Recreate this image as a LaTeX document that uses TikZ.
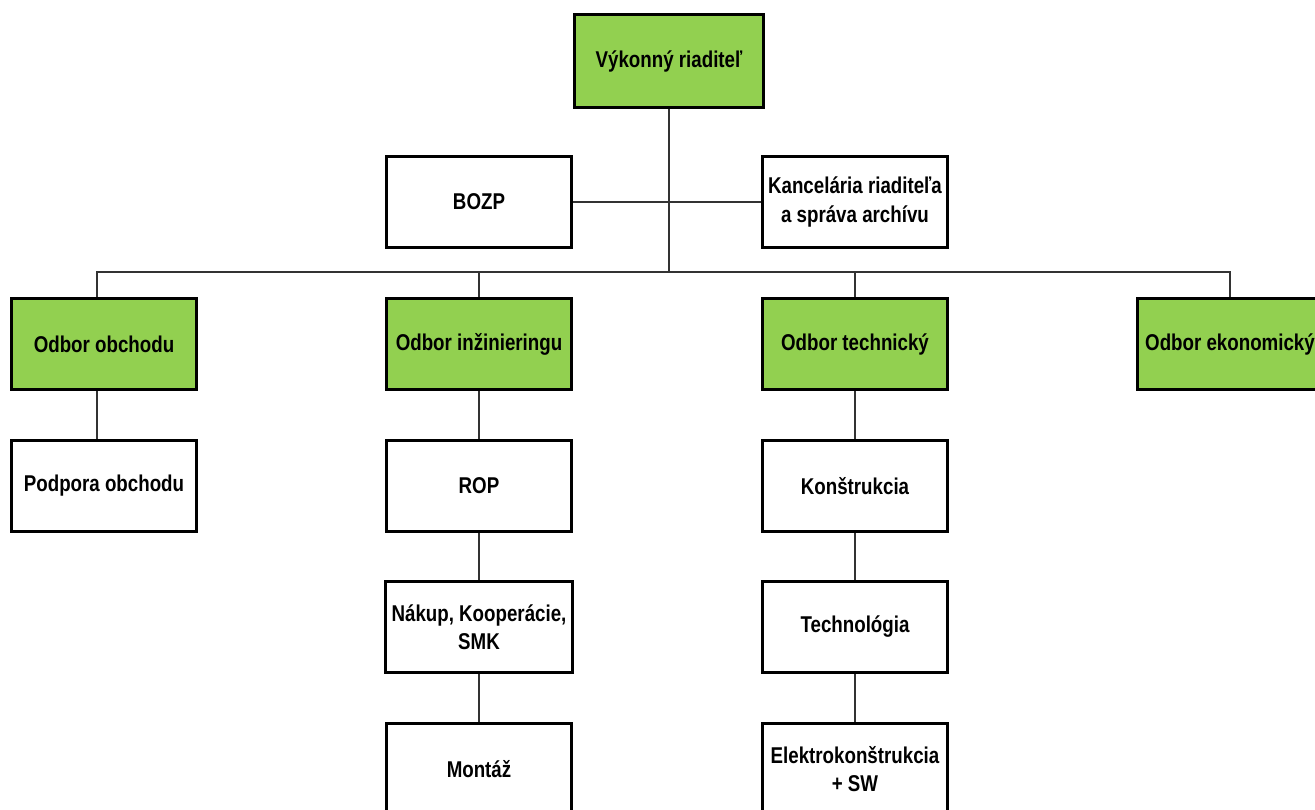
\documentclass[tikz,border=0pt]{standalone}
\usepackage{fontspec}
\setmainfont{Liberation Sans}[FakeStretch=0.82]
\usepackage{tikz}
\definecolor{boxgreen}{RGB}{146,208,80}

\begin{document}
\begin{tikzpicture}[x=0.02cm,y=-0.02cm,
	main_node/.style={rectangle,draw=black,line width=1.7pt,minimum width=3.7cm,minimum height=1.82cm,align=center,font=\fontsize{13}{16}\selectfont\bfseries,fill=white},
	green_node/.style={main_node,fill=boxgreen},
	link/.style={draw=black!80,line width=0.6pt}]
	\useasboundingbox (0,0) rectangle (1315,809);
	\node[green_node,minimum width=3.8cm,minimum height=1.86cm] (1) at (669,61) {Výkonný riaditeľ};
	\node[main_node] (2) at (479,202) {BOZP};
	\node[main_node] (3) at (855,202) {Kancelária riaditeľa\\a správa archívu};
	\coordinate (hub) at (669,272);
	\node[green_node] (4) at (104,344) {Odbor obchodu};
	\node[green_node] (5) at (479,344) {Odbor inžinieringu};
	\node[green_node] (6) at (855,344) {Odbor technický};
	\node[green_node] (7) at (1230,344) {Odbor ekonomický};
	\node[main_node] (8) at (104,486) {Podpora obchodu};
	\node[main_node] (9) at (479,486) {ROP};
	\node[main_node] (10) at (479,627) {Nákup, Kooperácie,\\SMK};
	\node[main_node] (11) at (479,769) {Montáž};
	\node[main_node] (12) at (855,486) {Konštrukcia};
	\node[main_node] (13) at (855,627) {Technológia};
	\node[main_node] (14) at (855,769) {Elektrokonštrukcia\\+ SW};
	\coordinate (4a) at (97,272);
\draw[link] (1) -- (hub);
\draw[link] (2) -- (3);
\draw[link] (4a |- 4.north) -- (4a) -- (hub) -| (7);
\draw[link] (5) -- (5 |- hub);
\draw[link] (6) -- (6 |- hub);
\draw[link] (4a |- 4.south) -- (4a |- 8.north);
\draw[link] (5) -- (9) -- (10) -- (11);
\draw[link] (6) -- (12) -- (13) -- (14);
\end{tikzpicture}
\end{document}
